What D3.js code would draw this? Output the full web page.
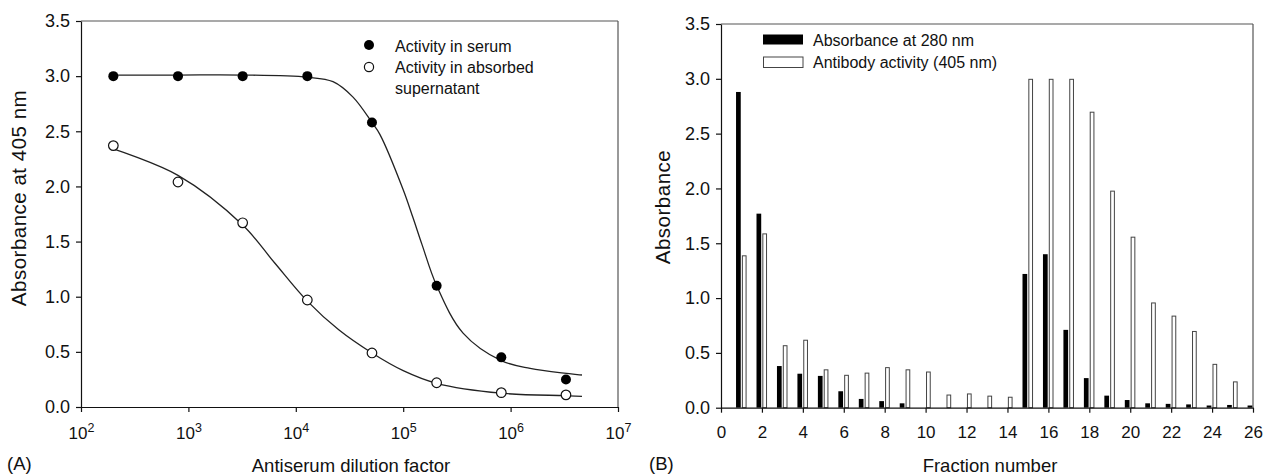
<!DOCTYPE html>
<html>
<head>
<meta charset="utf-8">
<script src="https://cdn.jsdelivr.net/npm/d3@7"></script>
<style>
   body { margin: 0; background: #fff; }
   svg { display: block; font-family: "Liberation Sans", Arial, sans-serif; }
</style>
</head>
<body>
<svg id="chart" width="1266" height="476"></svg>
<script>
// Panel A: antiserum titration (4-fold dilutions)
var dilutions        = [200, 800, 3200, 12800, 51200, 204800, 819200, 3276800];
var serumActivity    = [3.00, 3.00, 3.00, 3.00, 2.58, 1.10, 0.45, 0.25];
var absorbedActivity = [2.37, 2.04, 1.67, 0.97, 0.49, 0.22, 0.13, 0.11];

// fitted curves
var serumFitX    = [200, 800, 3200, 12800, 22200, 34100, 51200, 60800, 100000, 123000, 150000, 204800, 361000, 819200, 1520000, 4620000];
var serumFitY    = [3.01, 3.01, 3.01, 2.99, 2.95, 2.81, 2.58, 2.47, 1.97, 1.72, 1.47, 1.10, 0.67, 0.42, 0.35, 0.29];
var absorbedFitX = [200, 800, 3200, 6310, 12800, 25100, 51200, 100000, 204800, 819200, 3200000, 4620000];
var absorbedFitY = [2.34, 2.10, 1.65, 1.31, 0.96, 0.70, 0.49, 0.33, 0.215, 0.125, 0.103, 0.097];

var logTicks  = [1e2, 1e3, 1e4, 1e5, 1e6, 1e7];
var absTicks  = [0, 0.5, 1.0, 1.5, 2.0, 2.5, 3.0, 3.5];

// Panel B: column fractions
var fractions        = [1, 2, 3, 4, 5, 6, 7, 8, 9, 10, 11, 12, 13, 14, 15, 16, 17, 18, 19, 20, 21, 22, 23, 24, 25, 26];
var absorbance280    = [2.88, 1.77, 0.38, 0.31, 0.29, 0.15, 0.08, 0.06, 0.04, 0, 0, 0, 0, 0, 1.22, 1.40, 0.71, 0.27, 0.11, 0.07, 0.04, 0.035, 0.03, 0.02, 0.025, 0.02];
var antibodyActivity = [1.39, 1.59, 0.57, 0.62, 0.35, 0.30, 0.32, 0.37, 0.35, 0.33, 0.12, 0.13, 0.11, 0.10, 3.00, 3.00, 3.00, 2.70, 1.98, 1.56, 0.96, 0.84, 0.70, 0.40, 0.24, 0];
var fractionTicks    = [0, 2, 4, 6, 8, 10, 12, 14, 16, 18, 20, 22, 24, 26];

var fig = {
   svg: null,

   init: function() {
      this.svg = d3.select("#chart");
      this.drawPanelA();
      this.drawPanelB();
   },

   // thin box on top and right, the axes draw the other two sides
   frame: function(g, x0, x1, y0, y1) {
      g.append("line").attr("x1", x0).attr("x2", x1).attr("y1", y1).attr("y2", y1)
         .attr("stroke", "#555").attr("stroke-width", 1.2);
      g.append("line").attr("x1", x1).attr("x2", x1).attr("y1", y1).attr("y2", y0)
         .attr("stroke", "#555").attr("stroke-width", 1.2);
   },

   styleAxis: function(ax, size) {
      ax.attr("font-family", null).attr("font-size", size);
      ax.selectAll("path, line").attr("stroke", "#111").attr("stroke-width", 1.2);
      ax.selectAll("text").attr("fill", "#111");
   },

   drawPanelA: function() {
      var svg = this.svg;
      var x = d3.scaleLog().domain([1e2, 1e7]).range([81, 618]);
      var y = d3.scaleLinear().domain([0, 3.5]).range([407, 21]);
      var g = svg.append("g");

      this.frame(g, 81, 618, 407, 21);

      var xa = g.append("g").attr("transform", "translate(0,407)")
         .call(d3.axisBottom(x).tickValues(logTicks).tickSize(5).tickSizeOuter(0).tickFormat(""));
      this.styleAxis(xa, 17);
      xa.selectAll(".tick").append("text")
         .attr("y", 31.5).attr("fill", "#111").attr("text-anchor", "middle")
         .each(function(d) {
            var t = d3.select(this);
            t.append("tspan").text("10");
            t.append("tspan").attr("dy", -7).attr("font-size", 12.5).text(Math.round(Math.log10(d)));
         });

      var ya = g.append("g").attr("transform", "translate(81,0)")
         .call(d3.axisLeft(y).tickValues(absTicks).tickSize(5).tickSizeOuter(0).tickPadding(6).tickFormat(d3.format(".1f")));
      this.styleAxis(ya, 18);

      var line = d3.line().curve(d3.curveCatmullRom.alpha(0.5))
         .x(function(d) { return x(d[0]); })
         .y(function(d) { return y(d[1]); });

      g.append("path").datum(d3.zip(serumFitX, serumFitY))
         .attr("d", line).attr("fill", "none").attr("stroke", "#222").attr("stroke-width", 1.3);
      g.append("path").datum(d3.zip(absorbedFitX, absorbedFitY))
         .attr("d", line).attr("fill", "none").attr("stroke", "#222").attr("stroke-width", 1.3);

      g.selectAll(".serum").data(d3.zip(dilutions, serumActivity)).enter()
         .append("circle").attr("class", "serum")
         .attr("cx", function(d) { return x(d[0]); })
         .attr("cy", function(d) { return y(d[1]); })
         .attr("r", 5).attr("fill", "#000");

      g.selectAll(".absorbed").data(d3.zip(dilutions, absorbedActivity)).enter()
         .append("circle").attr("class", "absorbed")
         .attr("cx", function(d) { return x(d[0]); })
         .attr("cy", function(d) { return y(d[1]); })
         .attr("r", 4.8).attr("fill", "#fff").attr("stroke", "#111").attr("stroke-width", 1.2);

      // legend
      g.append("circle").attr("cx", 369).attr("cy", 45).attr("r", 5).attr("fill", "#000");
      g.append("circle").attr("cx", 369).attr("cy", 67).attr("r", 4.6).attr("fill", "#fff")
         .attr("stroke", "#111").attr("stroke-width", 1.2);
      var leg = g.append("text").attr("font-size", 16).attr("fill", "#111");
      leg.append("tspan").attr("x", 395).attr("y", 52).text("Activity in serum");
      leg.append("tspan").attr("x", 395).attr("y", 73).text("Activity in absorbed");
      leg.append("tspan").attr("x", 395).attr("y", 94).text("supernatant");

      g.append("text").attr("transform", "translate(26,198) rotate(-90)")
         .attr("text-anchor", "middle").attr("font-size", 20.5).attr("letter-spacing", 0.5)
         .attr("fill", "#111").text("Absorbance at 405 nm");
      g.append("text").attr("x", 351).attr("y", 472).attr("text-anchor", "middle")
         .attr("font-size", 18.5).attr("fill", "#111").text("Antiserum dilution factor");
      g.append("text").attr("x", 7).attr("y", 470).attr("font-size", 18.5)
         .attr("fill", "#111").text("(A)");
   },

   drawPanelB: function() {
      var svg = this.svg;
      var x = d3.scaleLinear().domain([0, 26]).range([721, 1253]);
      var y = d3.scaleLinear().domain([0, 3.5]).range([407.7, 24]);
      var g = svg.append("g");

      this.frame(g, 721, 1253, 407.7, 24);

      // black bar sits just left of the fraction number, white one just right of it
      g.selectAll(".b280").data(d3.zip(fractions, absorbance280)).enter()
         .append("rect").attr("class", "b280")
         .attr("x", function(d) { return x(d[0] - 0.265); })
         .attr("width", x(0.23) - x(0))
         .attr("y", function(d) { return y(d[1]); })
         .attr("height", function(d) { return y(0) - y(d[1]); })
         .attr("fill", "#000");

      g.selectAll(".b405").data(d3.zip(fractions, antibodyActivity).filter(function(d) { return d[1] > 0; })).enter()
         .append("rect").attr("class", "b405")
         .attr("x", function(d) { return x(d[0] + 0.02) + 0.5; })
         .attr("width", x(0.23) - x(0) - 1)
         .attr("y", function(d) { return y(d[1]) + 0.5; })
         .attr("height", function(d) { return y(0) - y(d[1]) - 0.5; })
         .attr("fill", "#fff").attr("stroke", "#444").attr("stroke-width", 1);

      var xa = g.append("g").attr("transform", "translate(0,407.7)")
         .call(d3.axisBottom(x).tickValues(fractionTicks).tickSize(5).tickSizeOuter(0).tickPadding(13).tickFormat(d3.format("d")));
      this.styleAxis(xa, 17);

      var ya = g.append("g").attr("transform", "translate(721,0)")
         .call(d3.axisLeft(y).tickValues(absTicks).tickSize(5).tickSizeOuter(0).tickPadding(6).tickFormat(d3.format(".1f")));
      this.styleAxis(ya, 18);

      // legend
      g.append("rect").attr("x", 763).attr("y", 34.5).attr("width", 40).attr("height", 10).attr("fill", "#000");
      g.append("rect").attr("x", 763.5).attr("y", 57).attr("width", 39.5).attr("height", 10.5)
         .attr("fill", "#fff").attr("stroke", "#444").attr("stroke-width", 1);
      g.append("text").attr("x", 813).attr("y", 46).attr("font-size", 16).attr("fill", "#111")
         .text("Absorbance at 280 nm");
      g.append("text").attr("x", 813).attr("y", 68).attr("font-size", 16).attr("fill", "#111")
         .text("Antibody activity (405 nm)");

      g.append("text").attr("transform", "translate(670,207) rotate(-90)")
         .attr("text-anchor", "middle").attr("font-size", 20.5).attr("letter-spacing", 0.5)
         .attr("fill", "#111").text("Absorbance");
      g.append("text").attr("x", 990).attr("y", 472).attr("text-anchor", "middle")
         .attr("font-size", 18.5).attr("fill", "#111").text("Fraction number");
      g.append("text").attr("x", 649).attr("y", 470).attr("font-size", 18.5)
         .attr("fill", "#111").text("(B)");
   }
};

fig.init();
</script>
</body>
</html>
